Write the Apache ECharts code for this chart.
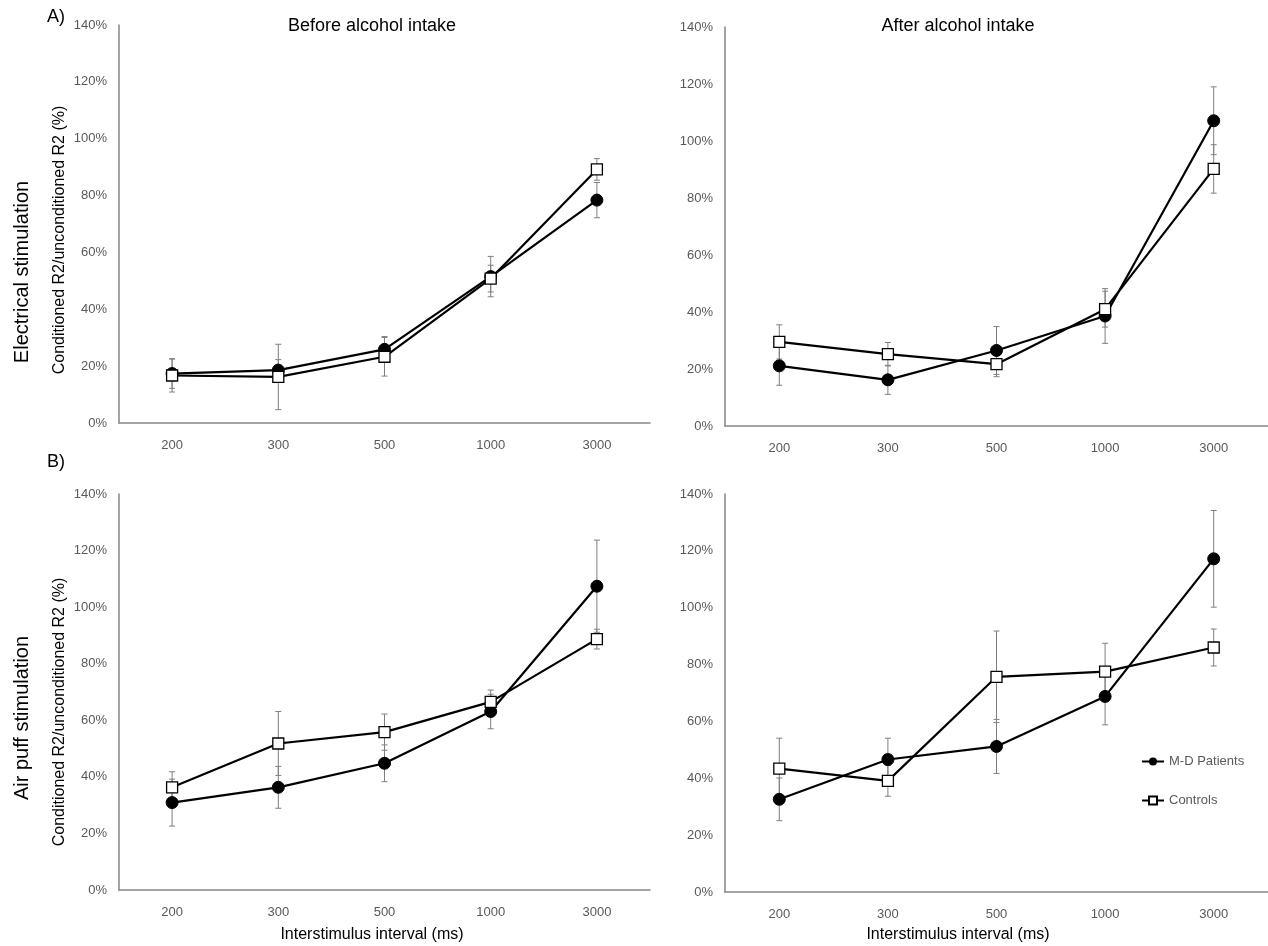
<!DOCTYPE html>
<html>
<head>
<meta charset="utf-8">
<script src="https://cdn.jsdelivr.net/npm/echarts@6/dist/echarts.min.js"></script>
<style>
  html, body { margin: 0; padding: 0; background: #fff; }
  #main { width: 1268px; height: 946px; }
</style>
</head>
<body>
<div id="main"></div>
<script>
// categories (interstimulus interval, ms)
const categories = ['200', '300', '500', '1000', '3000'];
const yTicks = [0, 20, 40, 60, 80, 100, 120, 140];

// A) electrical stimulation, before alcohol
const elecBeforePatients = [17.4, 18.6, 25.9, 51.5, 78.4];
const elecBeforePatientsErr = [5.2, 3.7, 4.5, 7.1, 6.2];
const elecBeforeControls = [16.7, 16.2, 23.3, 50.8, 89.2];
const elecBeforeControlsErr = [5.8, 11.5, 6.8, 4.7, 3.8];

// A) electrical stimulation, after alcohol
const elecAfterPatients = [21.1, 16.2, 26.5, 38.6, 107.1];
const elecAfterPatientsErr = [6.8, 5.1, 8.4, 9.6, 11.9];
const elecAfterControls = [29.5, 25.2, 21.7, 41.0, 90.2];
const elecAfterControlsErr = [6.0, 4.1, 4.4, 6.3, 8.5];

// B) air puff stimulation, before alcohol
const airBeforePatients = [30.9, 36.3, 44.8, 63.1, 107.4];
const airBeforePatientsErr = [8.3, 7.4, 6.5, 6.1, 16.3];
const airBeforeControls = [36.3, 51.8, 55.8, 66.5, 88.7];
const airBeforeControlsErr = [5.5, 11.3, 6.4, 4.2, 3.5];

// B) air puff stimulation, after alcohol
const airAfterPatients = [32.6, 46.6, 51.2, 68.8, 117.2];
const airAfterPatientsErr = [7.5, 7.5, 9.5, 10.0, 17.0];
const airAfterControls = [43.4, 39.1, 75.7, 77.5, 86.0];
const airAfterControlsErr = [10.7, 5.4, 16.1, 10.0, 6.5];

const FONT = 'Liberation Sans';
const AXIS_GRAY = '#868686';
const LABEL_GRAY = '#595959';

const chart = echarts.init(document.getElementById('main'));

const grids = [
  { left: 119, top: 25, width: 531, height: 398 },
  { left: 725, top: 27, width: 543, height: 399 },
  { left: 119, top: 494, width: 531, height: 396 },
  { left: 725, top: 494, width: 543, height: 398 }
];

const panels = [
  [elecBeforePatients, elecBeforePatientsErr, elecBeforeControls, elecBeforeControlsErr],
  [elecAfterPatients, elecAfterPatientsErr, elecAfterControls, elecAfterControlsErr],
  [airBeforePatients, airBeforePatientsErr, airBeforeControls, airBeforeControlsErr],
  [airAfterPatients, airAfterPatientsErr, airAfterControls, airAfterControlsErr]
];

function errData(vals, errs) {
  return vals.map((v, i) => [i, v - errs[i], v + errs[i]]);
}

function renderErr(params, api) {
  const lo = api.coord([api.value(0), api.value(1)]);
  const hi = api.coord([api.value(0), api.value(2)]);
  const w = 3;
  const style = { stroke: '#7f7f7f', lineWidth: 1 };
  return {
    type: 'group',
    children: [
      { type: 'line', shape: { x1: lo[0], y1: lo[1], x2: hi[0], y2: hi[1] }, style: style },
      { type: 'line', shape: { x1: lo[0] - w, y1: lo[1], x2: lo[0] + w, y2: lo[1] }, style: style },
      { type: 'line', shape: { x1: hi[0] - w, y1: hi[1], x2: hi[0] + w, y2: hi[1] }, style: style }
    ]
  };
}

const xAxes = grids.map((g, i) => ({
  type: 'category',
  gridIndex: i,
  data: categories,
  axisLine: { lineStyle: { color: AXIS_GRAY, width: 1.5 } },
  axisTick: { show: false },
  axisLabel: { color: LABEL_GRAY, fontSize: 13, fontFamily: FONT, margin: 16 }
}));

const yAxes = grids.map((g, i) => ({
  type: 'value',
  gridIndex: i,
  min: yTicks[0],
  max: yTicks[yTicks.length - 1],
  interval: 20,
  axisLine: { show: true, lineStyle: { color: AXIS_GRAY, width: 1.5 } },
  axisTick: { show: false },
  splitLine: { show: false },
  axisLabel: { color: LABEL_GRAY, fontSize: 13, fontFamily: FONT, margin: 12, formatter: '{value}%' }
}));

const series = [];
panels.forEach((p, i) => {
  series.push({
    type: 'custom', xAxisIndex: i, yAxisIndex: i, z: 1,
    renderItem: renderErr, data: errData(p[0], p[1]), silent: true
  });
  series.push({
    type: 'custom', xAxisIndex: i, yAxisIndex: i, z: 1,
    renderItem: renderErr, data: errData(p[2], p[3]), silent: true
  });
  series.push({
    name: 'M-D Patients', type: 'line', xAxisIndex: i, yAxisIndex: i, z: 3,
    data: p[0], symbol: 'circle', symbolSize: 12,
    lineStyle: { color: '#000', width: 2.2 },
    itemStyle: { color: '#000', borderColor: '#000' }
  });
  series.push({
    name: 'Controls', type: 'line', xAxisIndex: i, yAxisIndex: i, z: 3,
    data: p[2], symbol: 'rect', symbolSize: 11,
    lineStyle: { color: '#000', width: 2.2 },
    itemStyle: { color: '#fff', borderColor: '#000', borderWidth: 1.3 }
  });
});

function txt(x, y, text, size, rotate) {
  return {
    type: 'text', x: x, y: y, rotation: rotate ? Math.PI / 2 : 0,
    style: {
      text: text, fill: '#000', font: size + 'px "' + FONT + '"',
      align: 'center', verticalAlign: 'middle'
    }
  };
}

chart.setOption({
  animation: false,
  grid: grids,
  xAxis: xAxes,
  yAxis: yAxes,
  series: series,
  legend: {
    data: ['M-D Patients', 'Controls'],
    orient: 'vertical',
    left: 1136, top: 750,
    itemGap: 26, itemWidth: 22, itemHeight: 10,
    textStyle: { color: LABEL_GRAY, fontSize: 13, fontFamily: FONT },
    selectedMode: false
  },
  graphic: [
    txt(56, 17, 'A)', 18),
    txt(56, 462, 'B)', 18),
    txt(372, 26, 'Before alcohol intake', 18),
    txt(958, 26, 'After alcohol intake', 18),
    txt(372, 935, 'Interstimulus interval (ms)', 16),
    txt(958, 935, 'Interstimulus interval (ms)', 16),
    txt(22, 272, 'Electrical stimulation', 20, true),
    txt(22, 718, 'Air puff stimulation', 20, true),
    txt(60, 240, 'Conditioned R2/unconditioned R2 (%)', 16, true),
    txt(60, 712, 'Conditioned R2/unconditioned R2 (%)', 16, true)
  ]
});
</script>
</body>
</html>
